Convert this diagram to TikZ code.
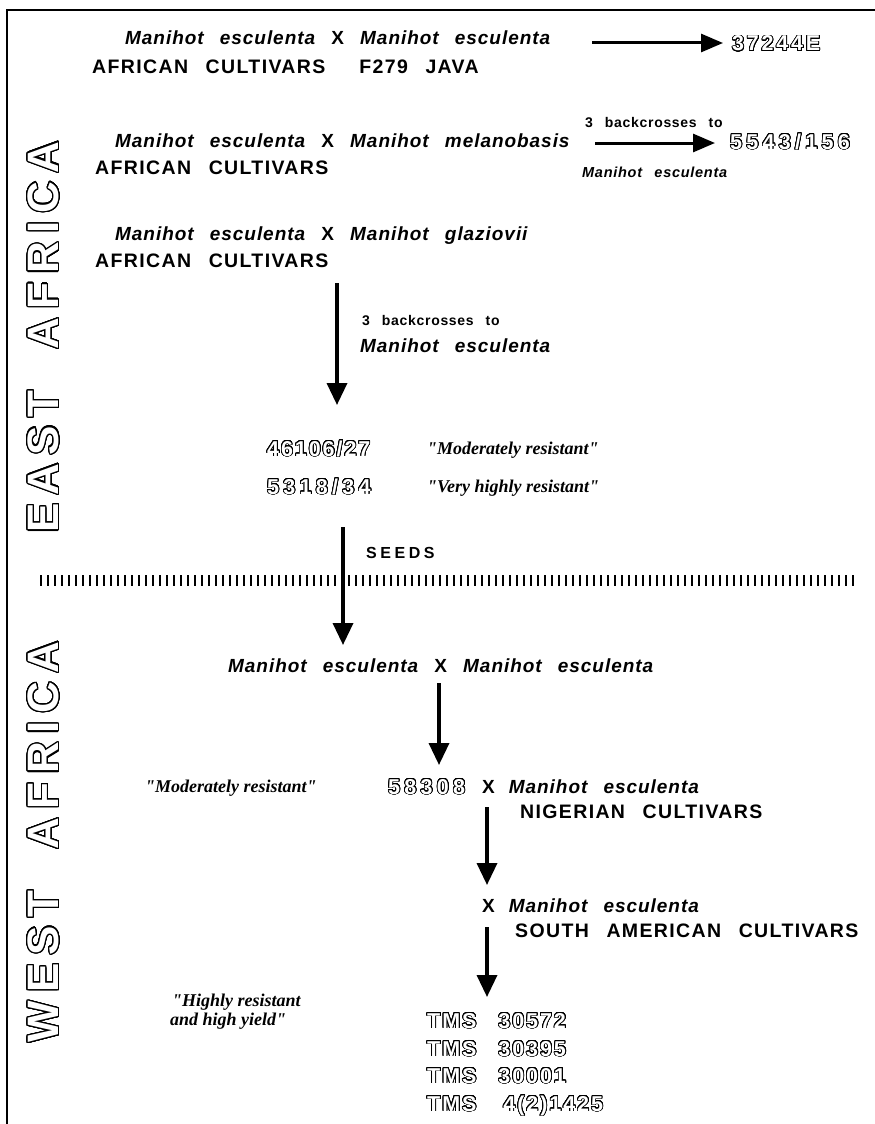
\documentclass[tikz,border=0pt]{standalone}
\usepackage{fontspec}
\usepackage{xcolor}
\usepackage{contour}
\usetikzlibrary{arrows.meta,positioning}
\setmainfont{Liberation Sans}
\newfontfamily\scifont[LetterSpace=5,WordSpace=2.6]{Liberation Sans}
\newfontfamily\cultfont[LetterSpace=7,WordSpace=2.6]{Liberation Sans}
\newfontfamily\seedfont[LetterSpace=22]{Liberation Sans}
\newfontfamily\notefont{Liberation Serif}
\newfontfamily\codefont[LetterSpace=9]{Liberation Sans}
\newfontfamily\widecodefont[LetterSpace=20]{Liberation Sans}
\newfontfamily\regionfont[LetterSpace=19,WordSpace=2]{Liberation Sans}
\contournumber{32}
\newcommand{\hollow}[2][0.8pt]{{\contourlength{#1}\color{white}\contour{black}{#2}}}
\newcommand{\crossx}{{\upshape X}}

\begin{document}
\begin{tikzpicture}[x=1pt, y=-1pt,
  sci/.style={anchor=base west, inner sep=0pt,
              font=\scifont\bfseries\itshape\fontsize{19}{22}\selectfont},
  cult/.style={anchor=base west, inner sep=0pt,
               font=\cultfont\bfseries\fontsize{19.5}{22}\selectfont},
  small/.style={anchor=base west, inner sep=0pt,
                font=\scifont\bfseries\fontsize{14}{16}\selectfont},
  smallsci/.style={anchor=base west, inner sep=0pt,
                   font=\scifont\bfseries\itshape\fontsize{14.5}{16}\selectfont},
  note/.style={anchor=base west, inner sep=0pt, align=left,
               font=\notefont\bfseries\itshape\fontsize{18}{20}\selectfont},
  code/.style={anchor=base west, inner sep=0pt,
               font=\codefont\bfseries\fontsize{21.5}{24}\selectfont},
  widecode/.style={anchor=base west, inner sep=0pt,
                   font=\widecodefont\bfseries\fontsize{21.5}{24}\selectfont},
  region/.style={rotate=90, inner sep=0pt,
                 font=\regionfont\bfseries\fontsize{44}{46}\selectfont},
  arr/.style={-{Triangle[length=22pt,width=20pt]}, line width=3.5pt},
  harr/.style={-{Triangle[length=22pt,width=18pt]}, line width=3pt}
]
\useasboundingbox (0,0) rectangle (875,1124);
% frame
\draw[line width=1.5pt] (7,1124) -- (7,10) -- (875,10);

% region labels
\node[region] (east) at (44,337) {\hollow[1.2pt]{EAST\ AFRICA}};
\node[region] (west) at (44,842) {\hollow[1.2pt]{WEST\ AFRICA}};

% first cross
\node[sci] (crossA) at (125,45) {Manihot esculenta \crossx\ Manihot esculenta};
\node[cult] (cultA) at (92,74) {AFRICAN CULTIVARS\hspace{34pt}F279 JAVA};
\node[code, font=\codefont\bfseries\fontsize{21.5}{24}\selectfont\addfontfeature{LetterSpace=13}] (clone1) at (732,51) {\hollow{37244E}};
\coordinate (startA) at (592,43);
\draw[harr, shorten >=9pt] (startA) -- (clone1.west |- startA);

% second cross
\node[sci] (crossB) at (115,147) {Manihot esculenta \crossx\ Manihot melanobasis};
\node[cult] (cultB) at (95,174) {AFRICAN CULTIVARS};
\node[widecode] (clone2) at (730,149) {\hollow{5543/156}};
\node[small] (bcB) at (585,127) {3 backcrosses to};
\node[smallsci] (bcmB) at (582,177) {Manihot esculenta};
\coordinate (startB) at (595,143);
\coordinate (endB) at (715,143);
\draw[harr] (startB) -- (endB);

% third cross
\node[sci] (crossC) at (115,240) {Manihot esculenta \crossx\ Manihot glaziovii};
\node[cult] (cultC) at (95,267) {AFRICAN CULTIVARS};
\node[small] (bcC) at (362,325) {3 backcrosses to};
\node[sci] (bcmC) at (360,352) {Manihot esculenta};
\coordinate (startC) at (337,283);
\coordinate (endC) at (337,405);
\draw[arr] (startC) -- (endC);

% east african selections
\node[code] (clone3) at (267,456) {\hollow{46106/27}};
\node[note] (rate3) at (427,454) {"Moderately resistant"};
\node[widecode] (clone4) at (267,494) {\hollow{5318/34}};
\node[note] (rate4) at (427,492) {"Very highly resistant"};

% seeds to west africa
\node[anchor=base west, inner sep=0pt, font=\seedfont\bfseries\fontsize{16}{18}\selectfont] (seeds) at (366,558) {SEEDS};
\coordinate (startS) at (343,527);
\coordinate (endS) at (343,645);
\draw[line width=11pt, dash pattern=on 2pt off 5pt] (40,580) -- (858,580);
\draw[arr] (startS) -- (endS);

% west africa crosses
\node[sci] (crossD) at (228,672) {Manihot esculenta \crossx\ Manihot esculenta};
\coordinate (startD) at (439,683);
\coordinate (endD) at (439,765);
\draw[arr] (startD) -- (endD);

\node[note] (rate6) at (145,792) {"Moderately resistant"};
\node[widecode] (clone6) at (388,794) {\hollow{58308}};
\node[sci] (crossE) at (482,793) {\crossx\hspace{14pt}Manihot esculenta};
\node[cult] (cultE) at (520,818) {NIGERIAN CULTIVARS};
\coordinate (startE) at (487,807);
\coordinate (endE) at (487,885);
\draw[arr] (startE) -- (endE);

\node[sci] (crossF) at (482,912) {\crossx\hspace{14pt}Manihot esculenta};
\node[cult] (cultF) at (515,937) {SOUTH AMERICAN CULTIVARS};
\coordinate (startF) at (487,927);
\coordinate (endF) at (487,997);
\draw[arr] (startF) -- (endF);

% final clones
\node[note] (rate8) at (172,1025) {"Highly resistant\\[-1pt]\hspace{-2pt}and high yield"};
\node[code] (tms1) at (427,1028) {\hollow{TMS}\hspace{22pt}\hollow{30572}};
\node[code] (tms2) at (427,1056) {\hollow{TMS}\hspace{22pt}\hollow{30395}};
\node[code] (tms3) at (427,1083) {\hollow{TMS}\hspace{22pt}\hollow{30001}};
\node[code] (tms4) at (427,1111) {\hollow{TMS}\hspace{27pt}\hollow{4(2)1425}};
\end{tikzpicture}
\end{document}
